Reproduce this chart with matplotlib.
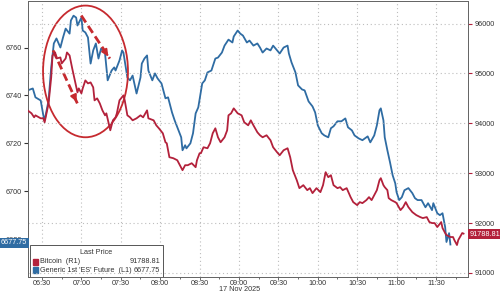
import pandas as pd
import matplotlib
matplotlib.use("Agg")
import matplotlib.pyplot as plt
import matplotlib.dates as mdates
from matplotlib.patches import Ellipse, Rectangle

plt.rcParams["font.family"] = ["Liberation Sans", "DejaVu Sans"]

# Generic 1st 'ES' Future (left axis)
es_times = ["06:19", "06:23", "06:25", "06:29", "06:31", "06:32", "06:35", "06:37", "06:39", "06:41",
            "06:44", "06:46", "06:48", "06:51", "06:52", "06:54", "06:56", "06:57", "07:00", "07:01",
            "07:03", "07:05", "07:07", "07:09", "07:11", "07:13", "07:15", "07:18", "07:20", "07:23",
            "07:25", "07:26", "07:29", "07:31", "07:32", "07:35", "07:37", "07:39", "07:41", "07:42",
            "07:45", "07:46", "07:48", "07:50", "07:51", "07:54", "07:56", "07:58", "08:01", "08:04",
            "08:06", "08:09", "08:11", "08:14", "08:16", "08:17", "08:19", "08:20", "08:23", "08:25",
            "08:27", "08:29", "08:32", "08:34", "08:36", "08:39", "08:42", "08:44", "08:47", "08:49",
            "08:52", "08:55", "08:56", "08:59", "09:01", "09:03", "09:06", "09:08", "09:11", "09:14",
            "09:16", "09:18", "09:21", "09:24", "09:26", "09:29", "09:31", "09:34", "09:37", "09:38",
            "09:40", "09:43", "09:45", "09:48", "09:50", "09:53", "09:56", "09:58", "10:00", "10:03",
            "10:05", "10:08", "10:10", "10:12", "10:15", "10:18", "10:21", "10:23", "10:26", "10:28",
            "10:31", "10:34", "10:36", "10:38", "10:40", "10:43", "10:45", "10:47", "10:48", "10:50",
            "10:51", "10:53", "10:55", "10:57", "10:59", "11:00", "11:02", "11:04", "11:06", "11:09",
            "11:12", "11:14", "11:16", "11:19", "11:22", "11:24", "11:27", "11:28", "11:31", "11:33",
            "11:35", "11:37", "11:38", "11:40", "11:41"]
es_values = [6742.1, 6742.9, 6739.2, 6737.9, 6731.7, 6729.6, 6737.9, 6751.7, 6761.7, 6763.8,
             6760.0, 6764.2, 6767.9, 6765.8, 6771.3, 6773.3, 6772.5, 6769.2, 6772.5, 6767.1,
             6766.3, 6764.2, 6753.3, 6758.8, 6761.7, 6755.4, 6759.6, 6757.5, 6746.3, 6750.4,
             6751.7, 6750.4, 6754.6, 6758.8, 6757.9, 6747.5, 6746.3, 6748.3, 6743.3, 6740.8,
             6747.5, 6753.3, 6755.4, 6756.7, 6750.4, 6746.3, 6749.2, 6747.1, 6745.0, 6738.8,
             6739.2, 6732.9, 6729.6, 6725.4, 6722.5, 6717.1, 6719.2, 6717.9, 6720.0, 6724.2,
             6732.5, 6735.0, 6745.0, 6746.3, 6749.6, 6750.4, 6755.4, 6755.8, 6757.9, 6760.8,
             6763.3, 6762.1, 6764.6, 6767.1, 6765.8, 6765.0, 6762.1, 6762.9, 6760.8, 6761.7,
             6760.0, 6757.9, 6759.6, 6758.8, 6760.8, 6758.8, 6757.5, 6760.0, 6760.8, 6757.5,
             6753.8, 6749.6, 6744.2, 6742.5, 6742.1, 6737.5, 6735.4, 6732.9, 6727.5, 6724.2,
             6723.3, 6722.5, 6726.3, 6727.1, 6729.2, 6729.2, 6730.4, 6726.7, 6725.4, 6723.3,
             6722.1, 6721.3, 6722.1, 6722.9, 6720.4, 6723.3, 6727.5, 6733.8, 6734.6, 6729.6,
             6722.5, 6717.1, 6712.1, 6706.7, 6703.3, 6699.6, 6696.3, 6697.5, 6700.4, 6701.3,
             6699.2, 6697.1, 6696.3, 6696.3, 6693.3, 6695.0, 6692.1, 6695.0, 6690.8, 6690.0,
             6690.8, 6685.0, 6678.8, 6682.5, 6677.75]

# Bitcoin (right axis)
btc_times = ["06:19", "06:22", "06:24", "06:25", "06:29", "06:31", "06:32", "06:35", "06:37", "06:38",
             "06:40", "06:41", "06:44", "06:45", "06:48", "06:49", "06:51", "06:53", "06:55", "06:57",
             "06:58", "07:00", "07:01", "07:03", "07:05", "07:07", "07:09", "07:10", "07:12", "07:14",
             "07:16", "07:18", "07:19", "07:22", "07:24", "07:26", "07:27", "07:29", "07:32", "07:33",
             "07:35", "07:37", "07:39", "07:42", "07:45", "07:47", "07:50", "07:51", "07:55", "07:57",
             "07:59", "08:02", "08:04", "08:05", "08:07", "08:10", "08:13", "08:15", "08:17", "08:19",
             "08:21", "08:24", "08:27", "08:28", "08:30", "08:31", "08:33", "08:36", "08:38", "08:40",
             "08:42", "08:44", "08:46", "08:49", "08:51", "08:52", "08:54", "08:56", "08:59", "09:02",
             "09:04", "09:07", "09:09", "09:11", "09:14", "09:16", "09:18", "09:21", "09:24", "09:26",
             "09:29", "09:31", "09:34", "09:37", "09:39", "09:41", "09:44", "09:46", "09:49", "09:52",
             "09:54", "09:56", "09:59", "10:02", "10:04", "10:06", "10:08", "10:10", "10:12", "10:15",
             "10:17", "10:19", "10:22", "10:25", "10:27", "10:30", "10:32", "10:34", "10:37", "10:39",
             "10:41", "10:43", "10:45", "10:47", "10:48", "10:50", "10:51", "10:53", "10:54", "10:56",
             "10:59", "11:00", "11:03", "11:05", "11:07", "11:09", "11:12", "11:15", "11:18", "11:20",
             "11:23", "11:25", "11:27", "11:29", "11:31", "11:34", "11:35", "11:37", "11:38", "11:41",
             "11:43", "11:44", "11:46", "11:47", "11:50", "11:51"]
btc_values = [94260, 94200, 94120, 94160, 94100, 94100, 94020, 94400, 94920, 95360,
              95420, 95300, 95320, 95200, 95300, 95420, 95360, 95100, 94860, 94620,
              94700, 94600, 94700, 94860, 94800, 94820, 94720, 94460, 94500, 94400,
              94260, 94160, 94200, 93860, 94060, 94120, 94200, 94460, 94560, 94460,
              94160, 94120, 94060, 94100, 94160, 94120, 94260, 94100, 94060, 93960,
              93900, 93800, 93620, 93600, 93320, 93300, 93260, 93160, 93060, 93160,
              93160, 93200, 93120, 93260, 93400, 93400, 93520, 93500, 93600, 93800,
              93900, 93720, 93620, 93720, 93860, 94160, 94200, 94300, 94200, 94160,
              94020, 93960, 94060, 93960, 93820, 93760, 93720, 93760, 93660, 93520,
              93420, 93360, 93460, 93500, 93320, 93060, 92860, 92700, 92760, 92660,
              92700, 92600, 92700, 92620, 92760, 93020, 92920, 92960, 92760, 92700,
              92720, 92660, 92700, 92520, 92420, 92360, 92420, 92400, 92460, 92520,
              92460, 92560, 92660, 92860, 92900, 92760, 92720, 92660, 92500, 92460,
              92420, 92400, 92260, 92320, 92420, 92320, 92220, 92160, 92120, 92100,
              92120, 92020, 92000, 92000, 91920, 92020, 91900, 91800, 91760, 91720,
              91720, 91660, 91560, 91660, 91800, 91788.81]

left_ticks = [6680, 6700, 6720, 6740, 6760]
right_ticks = [91000, 92000, 93000, 94000, 95000, 96000]

BLUE = "#2f6ca3"
RED = "#b3213b"
ANNO = "#c62a2f"
TXT = "#333333"
FS = 5.2


def to_dt(ts):
    return pd.to_datetime(["2025-11-17 " + t for t in ts])


es_x = to_dt(es_times)
btc_x = to_dt(btc_times)

fig = plt.figure(figsize=(5.0, 2.94), dpi=100)
ax = fig.add_axes([0.056, 0.058, 0.88, 0.94])
ax2 = ax.twinx()

ax.plot(es_x, es_values, color=BLUE, lw=1.3, zorder=3)
ax2.plot(btc_x, btc_values, color=RED, lw=1.3, zorder=3)

ax.set_xlim(pd.Timestamp("2025-11-17 06:19:20"), pd.Timestamp("2025-11-17 11:54:24"))
ax.set_ylim(6664.2, 6779.6)
ax2.set_ylim(90920, 96460)

ax.xaxis.set_major_locator(mdates.MinuteLocator(byminute=[0, 30]))
ax.xaxis.set_minor_locator(mdates.MinuteLocator(byminute=[15, 45]))
ax.xaxis.set_major_formatter(mdates.DateFormatter("%H:%M"))
ax.set_yticks(left_ticks)
ax2.set_yticks(right_ticks)

# grid: vertical from x ticks, horizontal from right axis
ax.grid(axis="x", color="#bdbdbd", ls=(0, (1, 2.5)), lw=0.8)
ax2.grid(axis="y", color="#bdbdbd", ls=(0, (1, 2.5)), lw=0.8)
ax2.set_axisbelow(True)

ax.tick_params(axis="x", labelsize=FS, length=2, width=0.6, color="#555555", pad=0.5, labelcolor=TXT)
ax.tick_params(axis="x", which="minor", length=1.5, width=0.6, color="#555555")
ax.tick_params(axis="y", labelsize=FS, length=3, width=0.8, color=TXT, pad=1.5, labelcolor=TXT)
ax2.tick_params(axis="y", labelsize=FS, length=3, width=0.8, color=RED, pad=1.5, labelcolor=TXT)

for a in (ax, ax2):
    for s in a.spines.values():
        s.set_color("#666666")
        s.set_linewidth(0.7)

# circle and arrows
ax.add_patch(Ellipse((0.1307, 0.7437), 0.193, 0.4765, transform=ax.transAxes,
                     fill=False, ec=ANNO, lw=1.3, zorder=6))
for (x0, y0), (x1, y1) in [((0.057, 0.82), (0.113, 0.625)), ((0.121, 0.946), (0.186, 0.79))]:
    ax.plot([x0, x1], [y0, y1], transform=ax.transAxes, color=ANNO, lw=2.0,
            ls=(0, (3, 1.5)), zorder=6)
    ax.annotate("", xy=(x1, y1), xytext=(x0 + (x1 - x0) * 0.85, y0 + (y1 - y0) * 0.85),
                xycoords="axes fraction", textcoords="axes fraction",
                arrowprops=dict(arrowstyle="-|>", color=ANNO, lw=1.5, mutation_scale=9),
                zorder=7)

# legend box
ax.add_patch(Rectangle((0.005, 0.0), 0.302, 0.115, transform=ax.transAxes, fc="white",
                       ec="#555555", lw=0.7, zorder=8))
ax.text(0.155, 0.088, "Last Price", transform=ax.transAxes, fontsize=FS, ha="center",
        va="center", color=TXT, zorder=9)
ax.add_patch(Rectangle((0.012, 0.043), 0.011, 0.022, transform=ax.transAxes, color=RED, zorder=9))
ax.add_patch(Rectangle((0.012, 0.013), 0.011, 0.022, transform=ax.transAxes, color=BLUE, zorder=9))
ax.text(0.027, 0.055, "Bitcoin  (R1)", transform=ax.transAxes, fontsize=FS, va="center",
        color=TXT, zorder=9)
ax.text(0.027, 0.025, "Generic 1st 'ES' Future  (L1)", transform=ax.transAxes, fontsize=FS,
        va="center", color=TXT, zorder=9)
ax.text(0.3, 0.055, f"{btc_values[-1]:.2f}", transform=ax.transAxes, fontsize=FS, va="center",
        ha="right", color=TXT, zorder=9)
ax.text(0.3, 0.025, f"{es_values[-1]:.2f}", transform=ax.transAxes, fontsize=FS, va="center",
        ha="right", color=TXT, zorder=9)

# last value tags
fig.text(0.0275, 1 - 243 / 294, f"{es_values[-1]:.2f}", fontsize=FS, color="white",
         ha="center", va="center",
         bbox=dict(boxstyle="square,pad=0.25", fc=BLUE, ec="none"))
fig.text(0.971, 1 - 234 / 294, f"{btc_values[-1]:.2f}", fontsize=FS, color="white",
         ha="center", va="center",
         bbox=dict(boxstyle="square,pad=0.25", fc=RED, ec="none"))

fig.text(240 / 500, 0.002, "17 Nov 2025", fontsize=FS, color=TXT,
         ha="center", va="bottom")

fig.savefig("out.png", dpi=100)
